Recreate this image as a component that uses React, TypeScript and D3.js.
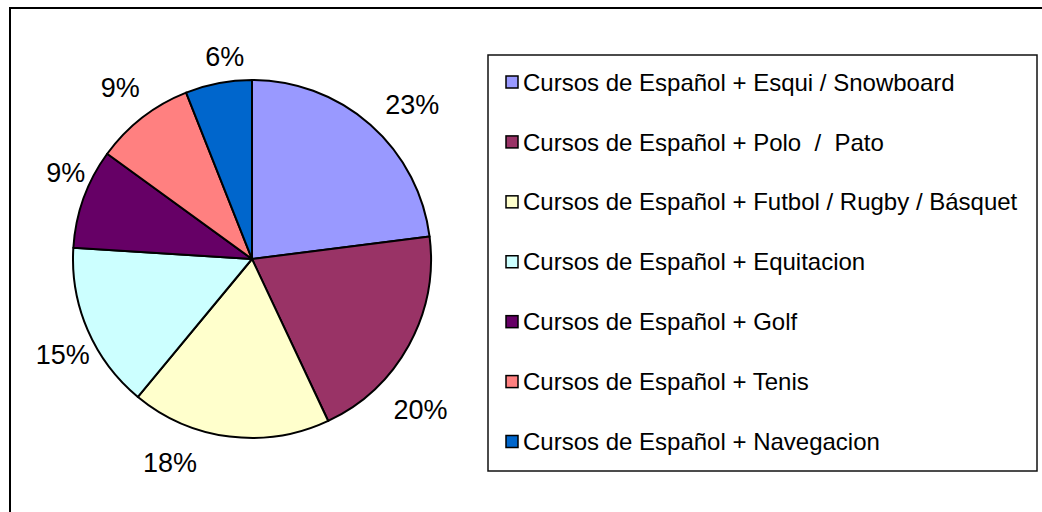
import React from "react";
import * as d3 from "d3";

const categories = [
  "Cursos de Español + Esqui / Snowboard",
  "Cursos de Español + Polo  /  Pato",
  "Cursos de Español + Futbol / Rugby / Básquet",
  "Cursos de Español + Equitacion",
  "Cursos de Español + Golf",
  "Cursos de Español + Tenis",
  "Cursos de Español + Navegacion",
];
const values = [23, 20, 18, 15, 9, 9, 6];
const colors = ["#9999FF", "#993366", "#FFFFCC", "#CCFFFF", "#660066", "#FF8080", "#0066CC"];
// label nudges from the arc-centroid position (Excel's label placement)
const labelNudge: [number, number][] = [
  [18, 7], [-20, 47], [-55, -10], [8, 10], [16, -14], [0, -2], [13, 8],
];

const W = 1042;
const H = 512;
const cx = 252;
const cy = 259;
const R = 179;
const labelR = 215;
const FONT = "Arial, 'Liberation Sans', Helvetica, sans-serif";

export default function App() {
  const total = d3.sum(values);
  const pie = d3.pie<number>().sort(null).value((d) => d);
  const arcs = pie(values);
  const arcGen = d3.arc<d3.PieArcDatum<number>>().innerRadius(0).outerRadius(R);
  const labelArc = d3.arc<d3.PieArcDatum<number>>().innerRadius(labelR).outerRadius(labelR);

  const legendY = d3.scalePoint<number>().domain(d3.range(categories.length)).range([82, 441.5]);

  return (
    <svg
      width={W}
      height={H}
      style={{ position: "absolute", left: 0, top: 0, background: "#fff" }}
      fontFamily={FONT}
    >
      <rect x={0} y={0} width={W} height={H} fill="#fff" />
      <rect x={10} y={8} width={W + 20} height={H + 20} fill="none" stroke="#000" strokeWidth={2} />
      <g transform={`translate(${cx},${cy})`}>
        {arcs.map((a, i) => (
          <path key={i} d={arcGen(a) || ""} fill={colors[i]} stroke="#000" strokeWidth={2} strokeLinejoin="round" />
        ))}
        {arcs.map((a, i) => {
          const [x, y] = labelArc.centroid(a);
          return (
            <text
              key={"l" + i}
              x={x + labelNudge[i][0]}
              y={y + labelNudge[i][1]}
              textAnchor="middle"
              dy="0.36em"
              fontSize={27}
              fill="#000"
            >
              {`${Math.round((a.data / total) * 100)}%`}
            </text>
          );
        })}
      </g>
      <rect x={488} y={55} width={549} height={416} fill="#fff" stroke="#111" strokeWidth={1.5} />
      {categories.map((c, i) => (
        <g key={c} transform={`translate(0,${legendY(i)})`}>
          <rect x={506} y={-6} width={12} height={12} fill={colors[i]} stroke="#000" strokeWidth={1.5} />
          <text x={523} y={0} dy="0.36em" fontSize={24} fill="#000" style={{ whiteSpace: "pre" }}>
            {c}
          </text>
        </g>
      ))}
    </svg>
  );
}
